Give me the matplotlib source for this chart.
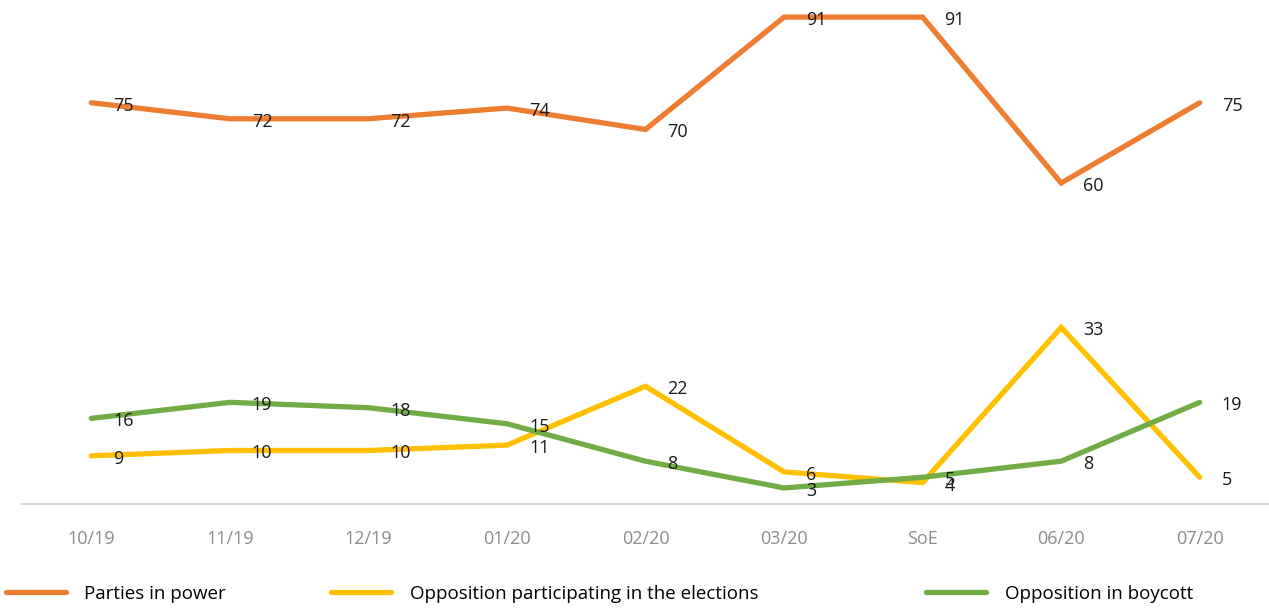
import matplotlib.pyplot as plt
import numpy as np

plt.rcParams['font.family'] = ['Open Sans', 'DejaVu Sans']

months = ['10/19', '11/19', '12/19', '01/20', '02/20', '03/20', 'SoE', '06/20', '07/20']
power = [75, 72, 72, 74, 70, 91, 91, 60, 75]
opposition = [9, 10, 10, 11, 22, 6, 4, 33, 5]
boycott = [16, 19, 18, 15, 8, 3, 5, 8, 19]

series = [
    ('Parties in power', power, '#ED7D31'),
    ('Opposition participating in the elections', opposition, '#FFC000'),
    ('Opposition in boycott', boycott, '#70AD47'),
]

fig = plt.figure(figsize=(12.69, 6.10), dpi=100)
ax = fig.add_axes([22 / 1269, (610 - 504) / 610, 1247 / 1269, 504 / 610])

x = np.arange(len(months))
lines = []
for name, vals, col in series:
    ln, = ax.plot(x, vals, color=col, lw=3.8, solid_capstyle='round',
                  solid_joinstyle='miter', label=name)
    lines.append(ln)
    # value labels to the right of each point
    for xi, v in zip(x, vals):
        ax.annotate(str(v), (xi, v), xytext=(22, -3), textcoords='offset pixels',
                    ha='left', va='center', fontsize=13, color='#1a1a1a')

ax.set_xlim(-0.5, len(months) - 0.5)
ax.set_ylim(0, 94.2)
ax.set_xticks(x)
ax.set_xticklabels(months, fontsize=13, color='#8c8c8c')
ax.tick_params(axis='x', length=0, pad=19)
ax.set_yticks([])
for s in ['top', 'right', 'left']:
    ax.spines[s].set_visible(False)
ax.spines['bottom'].set_color('#d9d9d9')
ax.spines['bottom'].set_linewidth(1.5)

# one legend per series so each entry sits at its own spot
legend_x = [2, 327, 922]
for ln, lx in zip(lines, legend_x):
    fig.legend(handles=[ln], loc='center left', bbox_to_anchor=(lx / 1269, 16 / 610),
               frameon=False, fontsize=13.5, handlelength=3.2, handletextpad=1.0,
               borderaxespad=0, borderpad=0.2)

fig.savefig('out.png', dpi=100)
